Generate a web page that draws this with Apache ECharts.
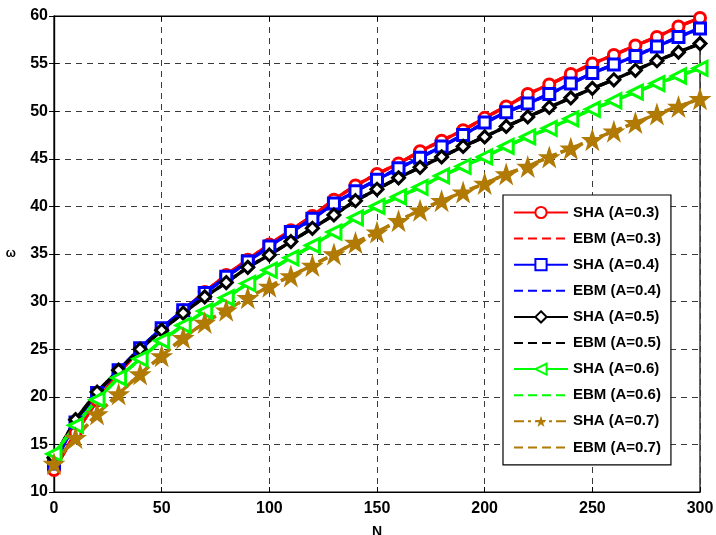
<!DOCTYPE html>
<html>
<head>
<meta charset="utf-8">
<script src="https://cdn.jsdelivr.net/npm/echarts@6/dist/echarts.min.js"></script>
<style>html,body{margin:0;padding:0;background:#fff;}#c{width:716px;height:535px;}</style>
</head>
<body>
<div id="c"></div>
<script>
const N = [0,10,20,30,40,50,60,70,80,90,100,110,120,130,140,150,160,170,180,190,200,210,220,230,240,250,260,270,280,290,300];
const xTicks = [0,50,100,150,200,250,300];
const yTicks = [10,15,20,25,30,35,40,45,50,55,60];

const sha03 = [12.3,16.2,19.6,22.5,25.0,27.1,29.1,31.0,32.8,34.4,36.0,37.5,39.0,40.7,42.2,43.4,44.5,45.8,46.9,48.0,49.3,50.5,51.8,52.8,53.9,55.0,55.9,56.9,57.8,58.9,59.8];
const ebm03 = [12.3,16.2,19.6,22.5,25.0,27.1,29.1,31.0,32.8,34.4,36.0,37.5,39.0,40.7,42.2,43.4,44.5,45.8,46.9,48.0,49.3,50.5,51.8,52.8,53.9,55.0,55.9,56.9,57.8,58.9,59.8];
const sha04 = [13.0,17.3,20.4,22.8,25.1,27.2,29.1,30.9,32.6,34.2,35.8,37.3,38.7,40.3,41.6,42.8,44.0,45.1,46.3,47.5,48.8,49.9,50.8,51.8,52.9,54.0,54.9,55.8,56.8,57.8,58.7];
const ebm04 = [13.0,17.3,20.4,22.8,25.1,27.2,29.1,30.9,32.6,34.2,35.8,37.3,38.7,40.3,41.6,42.8,44.0,45.1,46.3,47.5,48.8,49.9,50.8,51.8,52.9,54.0,54.9,55.8,56.8,57.8,58.7];
const sha05 = [13.6,17.6,20.5,22.8,25.0,27.0,28.8,30.5,32.0,33.6,34.9,36.3,37.7,39.1,40.6,41.8,43.0,44.1,45.2,46.3,47.3,48.4,49.4,50.4,51.4,52.4,53.3,54.3,55.3,56.2,57.1];
const ebm05 = [13.6,17.6,20.5,22.8,25.0,27.0,28.8,30.5,32.0,33.6,34.9,36.3,37.7,39.1,40.6,41.8,43.0,44.1,45.2,46.3,47.3,48.4,49.4,50.4,51.4,52.4,53.3,54.3,55.3,56.2,57.1];
const sha06 = [14.0,17.0,19.7,22.0,24.0,25.9,27.5,29.0,30.4,31.9,33.3,34.6,35.9,37.3,38.8,40.0,41.0,42.0,43.2,44.2,45.2,46.3,47.3,48.2,49.2,50.2,51.1,52.0,52.9,53.7,54.5];
const ebm06 = [14.0,17.0,19.7,22.0,24.0,25.9,27.5,29.0,30.4,31.9,33.3,34.6,35.9,37.3,38.8,40.0,41.0,42.0,43.2,44.2,45.2,46.3,47.3,48.2,49.2,50.2,51.1,52.0,52.9,53.7,54.5];
const sha07 = [13.0,15.7,18.2,20.3,22.4,24.3,26.2,27.8,29.1,30.4,31.6,32.7,33.8,35.0,36.2,37.3,38.5,39.6,40.6,41.5,42.4,43.4,44.2,45.2,46.1,47.0,47.9,48.8,49.7,50.5,51.3];
const ebm07 = [13.0,15.7,18.2,20.3,22.4,24.3,26.2,27.8,29.1,30.4,31.6,32.7,33.8,35.0,36.2,37.3,38.5,39.6,40.6,41.5,42.4,43.4,44.2,45.2,46.1,47.0,47.9,48.8,49.7,50.5,51.3];

const names = ['SHA (A=0.3)','EBM (A=0.3)','SHA (A=0.4)','EBM (A=0.4)','SHA (A=0.5)','EBM (A=0.5)','SHA (A=0.6)','EBM (A=0.6)','SHA (A=0.7)','EBM (A=0.7)'];

const RED='#ff0000', BLUE='#0000ff', BLACK='#000000', GREEN='#00ff00', GOLD='#b07a05';
const STAR='path://M50,0 L61.8,35.1 L98.9,35.1 L68.9,56.8 L80.3,91.9 L50,70.2 L19.7,91.9 L31.1,56.8 L1.1,35.1 L38.2,35.1 Z';
const FONT='Liberation Sans';

function pairs(arr){ return arr.map((v,i)=>[N[i], v]); }
function sha(name, arr, color, symbol, size, rotate, lineType, filled){
  return {
    name, type:'line', data:pairs(arr), symbol, symbolSize:size, symbolRotate:rotate||0,
    showAllSymbol:true,
    lineStyle:{color, width:3.4, type:lineType||'solid'},
    itemStyle:{color: filled ? color : '#ffffff', borderColor:color, borderWidth: filled?0:3},
    emphasis:{disabled:true}, animation:false
  };
}
function ebm(name, arr, color){
  return {
    name, type:'line', data:pairs(arr), symbol:'none',
    lineStyle:{color, width:3.4, type:[9,5]},
    itemStyle:{color},
    emphasis:{disabled:true}, animation:false
  };
}

const legendData = names.map((n,i)=> i%2===1 ? {name:n, itemStyle:{opacity:0}} : {name:n});

const chart = echarts.init(document.getElementById('c'), null, {renderer:'canvas'});
const gridLine = {show:true, lineStyle:{color:'#3a3a3a', width:1, type:[6,5]}};
chart.setOption({
  backgroundColor:'#ffffff',
  animation:false,
  textStyle:{fontFamily:FONT},
  grid:{left:54, right:16, top:16, bottom:43, containLabel:false, outerBoundsMode:'none',
        show:true, borderColor:'#000', borderWidth:1.2, backgroundColor:'transparent'},
  legend:{
    orient:'vertical', left:503, top:195, data:legendData,
    backgroundColor:'#ffffff', borderColor:'#000', borderWidth:1.2,
    padding:[10,10,10,10], itemWidth:54, itemHeight:14, itemGap:11.1,
    textStyle:{fontFamily:FONT, fontWeight:'bold', fontSize:15, color:'#000'},
    selectedMode:false
  },
  xAxis:[{
    type:'value', min:0, max:300, interval:50, position:'bottom',
    name:'N', nameLocation:'middle', nameGap:33,
    nameTextStyle:{fontFamily:FONT, fontWeight:'bold', fontSize:14, color:'#000'},
    axisLine:{show:true, lineStyle:{color:'#000', width:1.2}},
    axisTick:{show:true, inside:true, length:5, lineStyle:{color:'#000'}},
    axisLabel:{fontFamily:FONT, fontWeight:'bold', fontSize:16, color:'#000', margin:9},
    splitLine:gridLine
  },{
    type:'value', min:0, max:300, interval:50, position:'top',
    axisLine:{show:true, lineStyle:{color:'#000', width:1.2}},
    axisTick:{show:true, inside:true, length:5, lineStyle:{color:'#000'}},
    axisLabel:{show:false}, splitLine:{show:false}
  }],
  yAxis:[{
    type:'value', min:10, max:60, interval:5, position:'left',
    name:'\u03c9', nameLocation:'middle', nameGap:38, nameRotate:0,
    nameTextStyle:{fontFamily:FONT, fontWeight:'bold', fontSize:12, color:'#000'},
    axisLine:{show:true, lineStyle:{color:'#000', width:1.2}},
    axisTick:{show:true, inside:true, length:5, lineStyle:{color:'#000'}},
    axisLabel:{fontFamily:FONT, fontWeight:'bold', fontSize:16, color:'#000', margin:6},
    splitLine:gridLine
  },{
    type:'value', min:10, max:60, interval:5, position:'right',
    axisLine:{show:true, lineStyle:{color:'#000', width:1.2}},
    axisTick:{show:true, inside:true, length:5, lineStyle:{color:'#000'}},
    axisLabel:{show:false}, splitLine:{show:false}
  }],
  series:[
    sha(names[0], sha03, RED, 'circle', 11, 0),
    ebm(names[1], ebm03, RED),
    sha(names[2], sha04, BLUE, 'rect', 11, 0),
    ebm(names[3], ebm04, BLUE),
    sha(names[4], sha05, BLACK, 'diamond', 12, 0),
    ebm(names[5], ebm05, BLACK),
    sha(names[6], sha06, GREEN, 'triangle', 14, 90),
    ebm(names[7], ebm06, GREEN),
    sha(names[8], sha07, GOLD, STAR, 23, 0, [10,4,3,4], true),
    ebm(names[9], ebm07, GOLD)
  ]
});
</script>
</body>
</html>
